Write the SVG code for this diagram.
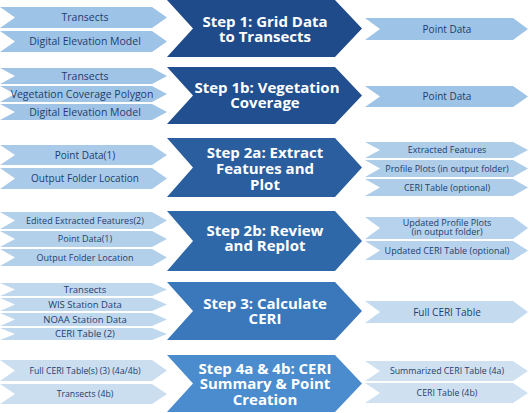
<svg xmlns="http://www.w3.org/2000/svg" width="530" height="413" viewBox="0 0 530 413">
<defs>
<style>
.in{font-family:"Open Sans","Noto Sans",sans-serif;fill:#1f3d6e;text-anchor:middle}
.st{font-family:"Open Sans","Noto Sans",sans-serif;font-weight:bold;font-size:15px;fill:#ffffff;text-anchor:middle}
</style>
</defs>
<rect width="530" height="413" fill="#ffffff"/>
<g id="step1">
<polygon points="167,0 335,0 362,28.5 335,57 167,57 193,28.5" fill="#1f4b8b"/>
<text class="st" x="265" y="26.5">Step 1: Grid Data</text>
<text class="st" x="265" y="41.5">to Transects</text>
</g>
<g id="step1b">
<polygon points="167,67 335,67 362,95.5 335,124 167,124 193,95.5" fill="#214f8f"/>
<text class="st" x="267" y="93">Step 1b: Vegetation</text>
<text class="st" x="265" y="108">Coverage</text>
</g>
<g id="step2a">
<polygon points="167,138 335,138 362,167.5 335,197 167,197 193,167.5" fill="#2a5e9f"/>
<text class="st" x="265" y="158">Step 2a: Extract</text>
<text class="st" x="265" y="174">Features and</text>
<text class="st" x="265" y="190">Plot</text>
</g>
<g id="step2b">
<polygon points="167,211 335,211 362,241 335,271 167,271 193,241" fill="#2f68a9"/>
<text class="st" x="265" y="236">Step 2b: Review</text>
<text class="st" x="265" y="251">and Replot</text>
</g>
<g id="step3">
<polygon points="167,282 335,282 362,311 335,340 167,340 193,311" fill="#3a78bb"/>
<text class="st" x="265" y="309">Step 3: Calculate</text>
<text class="st" x="265" y="324">CERI</text>
</g>
<g id="step4">
<polygon points="167,355 335,355 362,383.5 335,412 167,412 193,383.5" fill="#4a8ccd"/>
<text class="st" x="265" y="373.5">Step 4a &amp; 4b: CERI</text>
<text class="st" x="265" y="389">Summary &amp; Point</text>
<text class="st" x="265" y="404.5">Creation</text>
</g>
<g id="inputs1">
<polygon points="0,7 152,7 167,17.5 152,28 0,28 15,17.5" fill="#9dc3e6"/>
<text class="in" x="85" y="21" font-size="10.5">Transects</text>
<polygon points="0,31 152,31 167,41.5 152,52 0,52 15,41.5" fill="#9dc3e6"/>
<text class="in" x="85" y="45" font-size="10.5">Digital Elevation Model</text>
</g>
<g id="inputs1b">
<polygon points="0,68 152,68 167,76 152,84 0,84 15,76" fill="#a0c4e6"/>
<text class="in" x="85" y="79.5" font-size="10.5">Transects</text>
<polygon points="0,86 152,86 167,94 152,102 0,102 15,94" fill="#a0c4e6"/>
<text class="in" x="82" y="97.5" font-size="10.5">Vegetation Coverage Polygon</text>
<polygon points="0,104 152,104 167,112 152,120 0,120 15,112" fill="#a0c4e6"/>
<text class="in" x="85" y="115.5" font-size="10.5">Digital Elevation Model</text>
</g>
<g id="inputs2a">
<polygon points="0,145 152,145 167,155 152,165 0,165 15,155" fill="#a9cae8"/>
<text class="in" x="85" y="158.5" font-size="10">Point Data(1)</text>
<polygon points="0,168 152,168 167,178.5 152,189 0,189 15,178.5" fill="#a9cae8"/>
<text class="in" x="85" y="182" font-size="10">Output Folder Location</text>
</g>
<g id="inputs2b">
<polygon points="0,212 152,212 167,220.5 152,229 0,229 15,220.5" fill="#b3d0eb"/>
<text class="in" x="85" y="223.7" font-size="9">Edited Extracted Features(2)</text>
<polygon points="0,231 152,231 167,239 152,247 0,247 15,239" fill="#b3d0eb"/>
<text class="in" x="85" y="242.2" font-size="9">Point Data(1)</text>
<polygon points="0,249 152,249 167,257.5 152,266 0,266 15,257.5" fill="#b3d0eb"/>
<text class="in" x="85" y="260.7" font-size="9">Output Folder Location</text>
</g>
<g id="inputs3">
<polygon points="0,283 152,283 167,289.5 152,296 0,296 15,289.5" fill="#c0d8ee"/>
<text class="in" x="85" y="292.8" font-size="9.5">Transects</text>
<polygon points="0,298 152,298 167,304.5 152,311 0,311 15,304.5" fill="#c0d8ee"/>
<text class="in" x="85" y="307.8" font-size="9.5">WIS Station Data</text>
<polygon points="0,313 152,313 167,319.5 152,326 0,326 15,319.5" fill="#c0d8ee"/>
<text class="in" x="85" y="322.8" font-size="9.5">NOAA Station Data</text>
<polygon points="0,328 152,328 167,334 152,340 0,340 15,334" fill="#c0d8ee"/>
<text class="in" x="85" y="337.3" font-size="9.5">CERI Table (2)</text>
</g>
<g id="inputs4">
<polygon points="0,360 152,360 167,370.5 152,381 0,381 15,370.5" fill="#cadef0"/>
<text class="in" x="85" y="373.6" font-size="8.7">Full CERI Table(s) (3) (4a/4b)</text>
<polygon points="0,384 152,384 167,394 152,404 0,404 15,394" fill="#cadef0"/>
<text class="in" x="85" y="397.1" font-size="8.7">Transects (4b)</text>
</g>
<g id="outputs1">
<polygon points="365,18 513,18 528,29 513,40 365,40 380,29" fill="#9dc3e6"/>
<text class="in" x="447" y="32.5" font-size="10">Point Data</text>
</g>
<g id="outputs1b">
<polygon points="365,86 513,86 528,96.5 513,107 365,107 380,96.5" fill="#9dc3e6"/>
<text class="in" x="447" y="100" font-size="10">Point Data</text>
</g>
<g id="outputs2a">
<polygon points="365,142 513,142 528,150 513,158 365,158 380,150" fill="#aecde9"/>
<text class="in" x="447" y="153.2" font-size="9">Extracted Features</text>
<polygon points="365,160 513,160 528,168.5 513,177 365,177 380,168.5" fill="#aecde9"/>
<text class="in" x="447" y="171.7" font-size="9">Profile Plots (in output folder)</text>
<polygon points="365,179 513,179 528,187.5 513,196 365,196 380,187.5" fill="#aecde9"/>
<text class="in" x="447" y="190.7" font-size="9">CERI Table (optional)</text>
</g>
<g id="outputs2b">
<polygon points="365,217 513,217 528,228 513,239 365,239 380,228" fill="#b6d2ec"/>
<text class="in" x="447" y="226" font-size="9">Updated Profile Plots</text>
<text class="in" x="447" y="235" font-size="9">(in output folder)</text>
<polygon points="365,241 513,241 528,250.5 513,260 365,260 380,250.5" fill="#b6d2ec"/>
<text class="in" x="447" y="253.7" font-size="9">Updated CERI Table (optional)</text>
</g>
<g id="outputs3">
<polygon points="365,301 513,301 528,312 513,323 365,323 380,312" fill="#c4dbef"/>
<text class="in" x="447" y="315.5" font-size="10">Full CERI Table</text>
</g>
<g id="outputs4">
<polygon points="365,361 513,361 528,371 513,381 365,381 380,371" fill="#cfe1f1"/>
<text class="in" x="447" y="374.1" font-size="8.8">Summarized CERI Table (4a)</text>
<polygon points="365,383 513,383 528,393 513,403 365,403 380,393" fill="#cfe1f1"/>
<text class="in" x="447" y="396.1" font-size="8.8">CERI Table (4b)</text>
</g>
<g id="connectors"></g>
</svg>
